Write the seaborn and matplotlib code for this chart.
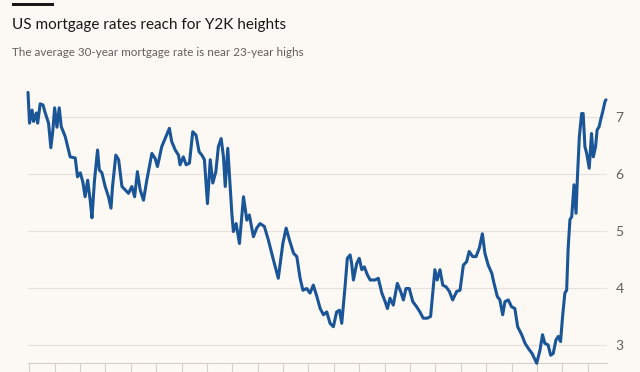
import pandas as pd
import matplotlib.pyplot as plt
import seaborn as sns

# Weekly 30-year fixed mortgage rate (%); x in decimal years
years = [2000.95, 2001.01, 2001.11, 2001.17, 2001.28, 2001.33, 2001.43, 2001.54, 2001.63,
         2001.76, 2001.85, 2001.93, 2002.00, 2002.09, 2002.18, 2002.26, 2002.42, 2002.61,
         2002.81, 2002.90, 2003.01, 2003.11, 2003.20, 2003.30, 2003.40, 2003.47, 2003.57,
         2003.69, 2003.76, 2003.86, 2003.99, 2004.12, 2004.22, 2004.28, 2004.41, 2004.52,
         2004.65, 2004.78, 2004.91, 2005.04, 2005.15, 2005.26, 2005.37, 2005.50, 2005.63,
         2005.83, 2005.96, 2006.05, 2006.22, 2006.35, 2006.52, 2006.61, 2006.75, 2006.88,
         2006.94, 2007.07, 2007.18, 2007.31, 2007.44, 2007.57, 2007.69, 2007.80, 2007.90,
         2008.02, 2008.13, 2008.23, 2008.35, 2008.45, 2008.56, 2008.65, 2008.72, 2008.82,
         2008.89, 2008.98, 2009.04, 2009.15, 2009.28, 2009.44, 2009.57, 2009.67, 2009.83,
         2009.96, 2010.09, 2010.26, 2010.42, 2010.62, 2010.81, 2010.99, 2011.12, 2011.25,
         2011.41, 2011.54, 2011.67, 2011.78, 2011.93, 2012.06, 2012.19, 2012.33, 2012.46,
         2012.59, 2012.72, 2012.85, 2012.98, 2013.11, 2013.22, 2013.31, 2013.44, 2013.53,
         2013.64, 2013.70, 2013.77, 2013.90, 2014.00, 2014.10, 2014.20, 2014.32, 2014.43,
         2014.62, 2014.75, 2014.89, 2015.02, 2015.11, 2015.21, 2015.34, 2015.50, 2015.63,
         2015.74, 2015.84, 2015.97, 2016.11, 2016.26, 2016.39, 2016.52, 2016.68, 2016.81,
         2016.92, 2016.98, 2017.07, 2017.18, 2017.29, 2017.42, 2017.55, 2017.68, 2017.84,
         2017.97, 2018.10, 2018.23, 2018.33, 2018.47, 2018.60, 2018.73, 2018.85, 2018.95,
         2019.08, 2019.22, 2019.31, 2019.44, 2019.54, 2019.65, 2019.74, 2019.87, 2020.00,
         2020.13, 2020.24, 2020.40, 2020.53, 2020.66, 2020.81, 2020.99, 2021.12, 2021.22,
         2021.31, 2021.44, 2021.54, 2021.64, 2021.75, 2021.84, 2021.93, 2022.01, 2022.10,
         2022.17, 2022.23, 2022.30, 2022.37, 2022.46, 2022.54, 2022.59, 2022.67, 2022.76,
         2022.82, 2022.89, 2022.96, 2023.06, 2023.15, 2023.22, 2023.31, 2023.37, 2023.45,
         2023.51, 2023.59, 2023.68, 2023.72]
rates = [7.43, 6.89, 7.12, 6.92, 7.07, 6.89, 7.23, 7.21, 7.07,
         6.89, 6.46, 6.77, 7.16, 6.82, 7.16, 6.83, 6.65, 6.30,
         6.28, 5.95, 6.02, 5.86, 5.60, 5.89, 5.54, 5.23, 5.89,
         6.42, 6.07, 6.02, 5.78, 5.60, 5.40, 5.78, 6.33, 6.25,
         5.78, 5.72, 5.66, 5.78, 5.60, 6.04, 5.72, 5.54, 5.89,
         6.36, 6.27, 6.13, 6.48, 6.62, 6.80, 6.57, 6.42, 6.33,
         6.16, 6.30, 6.16, 6.19, 6.74, 6.68, 6.39, 6.33, 6.25,
         5.48, 6.25, 5.84, 6.04, 6.48, 6.62, 6.30, 5.78, 6.45,
         5.95, 5.31, 4.99, 5.13, 4.78, 5.60, 5.19, 5.28, 4.90,
         5.05, 5.13, 5.08, 4.84, 4.49, 4.17, 4.78, 5.05, 4.84,
         4.61, 4.55, 4.17, 3.96, 3.99, 3.91, 4.05, 3.85, 3.64,
         3.53, 3.58, 3.38, 3.32, 3.58, 3.61, 3.38, 4.02, 4.52,
         4.58, 4.43, 4.14, 4.43, 4.52, 4.32, 4.37, 4.23, 4.14,
         4.14, 4.17, 3.91, 3.76, 3.64, 3.82, 3.70, 4.08, 3.94,
         3.79, 3.99, 3.99, 3.76, 3.67, 3.58, 3.47, 3.47, 3.50,
         4.02, 4.32, 4.14, 4.32, 4.05, 4.02, 3.94, 3.79, 3.94,
         3.96, 4.40, 4.46, 4.64, 4.55, 4.55, 4.70, 4.95, 4.61,
         4.40, 4.26, 4.08, 3.85, 3.79, 3.53, 3.76, 3.79, 3.67,
         3.64, 3.32, 3.18, 3.03, 2.94, 2.85, 2.68, 2.91, 3.18,
         3.03, 3.00, 2.82, 2.85, 3.09, 3.15, 3.06, 3.50, 3.91,
         3.96, 4.70, 5.20, 5.25, 5.81, 5.31, 5.89, 6.65, 7.06,
         7.06, 6.48, 6.36, 6.10, 6.71, 6.30, 6.48, 6.77, 6.83,
         6.95, 7.09, 7.27, 7.30]
year_ticks = list(range(2001, 2024))
rate_ticks = [3, 4, 5, 6, 7]

BG = '#fcf8f4'
BLUE = '#1a5597'
GREY = '#66605c'

sns.set_style('white')
plt.rcParams['font.family'] = ['Lato', 'DejaVu Sans']

df = pd.DataFrame({'year': years, 'rate': rates})

fig = plt.figure(figsize=(6.4, 3.72), dpi=100, facecolor=BG)
ax = fig.add_axes([28 / 640, 9 / 372, 579 / 640, 278 / 372], facecolor=BG)

sns.lineplot(data=df, x='year', y='rate', ax=ax, color=BLUE, linewidth=2.2,
             clip_on=False, zorder=3)

ax.set_xlim(2000.95, 2023.76)
ax.set_ylim(2.684, 7.56)
ax.set_xlabel('')
ax.set_ylabel('')

for v in rate_ticks:
    ax.axhline(v, color='#e7e2dd', linewidth=0.9, zorder=1)

ax.yaxis.tick_right()
ax.set_yticks(rate_ticks)
ax.tick_params(axis='y', length=0, pad=6, labelsize=10, labelcolor=GREY)
ax.set_xticks(year_ticks)
ax.set_xticklabels([])
ax.tick_params(axis='x', direction='out', length=12, width=0.8, color='#d5cfca', bottom=True)

for s in ['top', 'left', 'right']:
    ax.spines[s].set_visible(False)
ax.spines['bottom'].set_color('#d5cfca')
ax.spines['bottom'].set_linewidth(0.8)

# FT style header
fig.add_artist(plt.Rectangle((12 / 640, 1 - 6 / 372), 42 / 640, 3.5 / 372,
                             transform=fig.transFigure, color='#1a1817', lw=0))
fig.text(12 / 640, 1 - 25 / 372, 'US mortgage rates reach for Y2K heights',
         fontsize=11, color='#1a1817', va='center', ha='left')
fig.text(12 / 640, 1 - 52 / 372, 'The average 30-year mortgage rate is near 23-year highs',
         fontsize=8.4, color=GREY, va='center', ha='left')

fig.savefig('out.png', dpi=100, facecolor=BG)
